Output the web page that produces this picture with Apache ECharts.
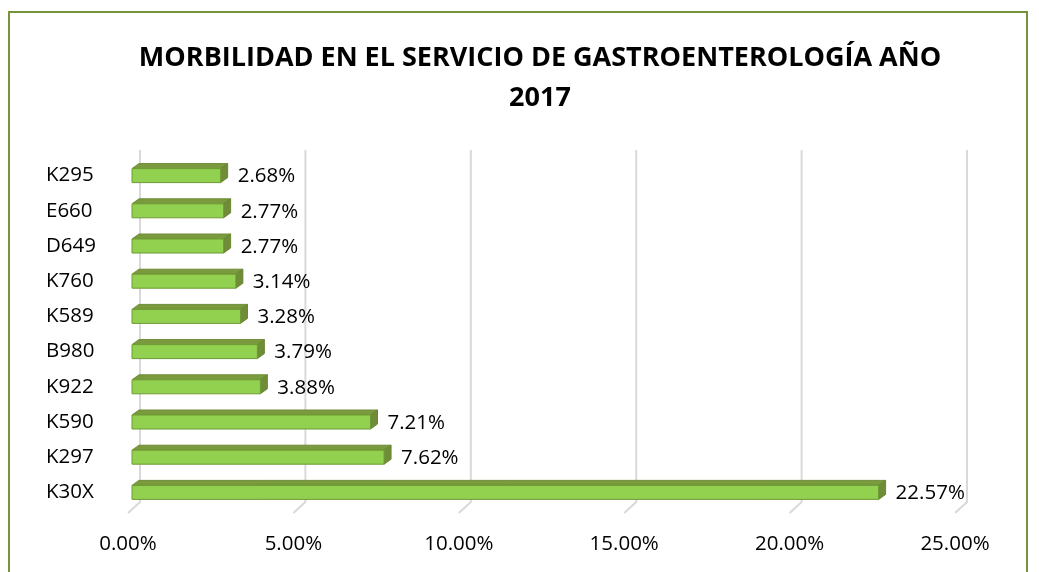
<!DOCTYPE html>
<html>
<head>
    <meta charset="utf-8">
    <title>Morbilidad Gastroenterología 2017</title>
    <style>
        body { margin: 0; padding: 0; background: #ffffff; }
        #chart { width: 1039px; height: 572px; }
    </style>
</head>
<body>
    <div id="chart"></div>
    <script src="https://cdn.jsdelivr.net/npm/echarts@6/dist/echarts.min.js"></script>
    <script>
        // datos (de arriba hacia abajo)
        const categories = ['K295', 'E660', 'D649', 'K760', 'K589', 'B980', 'K922', 'K590', 'K297', 'K30X'];
        const percentages = [2.68, 2.77, 2.77, 3.14, 3.28, 3.79, 3.88, 7.21, 7.62, 22.57];
        const ticks = [0, 5, 10, 15, 20, 25];

        const FONT = '"Open Sans", sans-serif';
        const DX = 7, DY = 5;   // profundidad 3D de las barras
        const BAR_H = 14;

        const chart = echarts.init(document.getElementById('chart'));

        function renderGrid(params, api) {
            const cs = params.coordSys;
            const x = api.coord([api.value(0), 0])[0];
            const top = cs.y - 8;
            const bottom = cs.y + cs.height;
            return {
                type: 'polyline',
                shape: { points: [[x + 8, top], [x + 8, bottom - 8], [x - 4, bottom + 3]] },
                style: { stroke: '#D9D9D9', lineWidth: 2, fill: null },
                silent: true
            };
        }

        function renderBar(params, api) {
            const val = api.value(0);
            const cat = api.value(1);
            const p0 = api.coord([0, cat]);
            const p1 = api.coord([val, cat]);
            const x0 = p0[0], x1 = p1[0];
            const t = p0[1] - BAR_H / 2, b = p0[1] + BAR_H / 2;
            return {
                type: 'group',
                children: [
                    {
                        type: 'polygon',
                        shape: { points: [[x0, t], [x1, t], [x1 + DX, t - DY], [x0 + DX, t - DY]] },
                        style: { fill: '#7A9A3E', stroke: '#6E8C36', lineWidth: 1 }
                    },
                    {
                        type: 'polygon',
                        shape: { points: [[x1, t], [x1 + DX, t - DY], [x1 + DX, b - DY], [x1, b]] },
                        style: { fill: '#6F8C37', stroke: '#6A8734', lineWidth: 1 }
                    },
                    {
                        type: 'rect',
                        shape: { x: x0, y: t, width: x1 - x0, height: BAR_H },
                        style: { fill: '#92D050', stroke: '#6F9A35', lineWidth: 1 }
                    },
                    {
                        type: 'text',
                        x: x1 + DX + 10,
                        y: p0[1] + 1,
                        style: {
                            text: val.toFixed(2) + '%',
                            fill: '#000000',
                            font: '20.5px ' + FONT,
                            verticalAlign: 'middle',
                            align: 'left'
                        }
                    }
                ]
            };
        }

        const option = {
            animation: false,
            backgroundColor: '#ffffff',
            textStyle: { fontFamily: FONT },
            title: {
                text: 'MORBILIDAD EN EL SERVICIO DE GASTROENTEROLOGÍA AÑO\n2017',
                left: 535,
                textAlign: 'center',
                top: 33,
                textStyle: {
                    fontFamily: FONT,
                    fontWeight: 'bold',
                    fontSize: 27,
                    lineHeight: 40,
                    color: '#000000'
                }
            },
            graphic: [{
                type: 'rect',
                shape: { x: 9, y: 12, width: 1018, height: 620 },
                style: { fill: null, stroke: '#77933C', lineWidth: 2 },
                silent: true
            }],
            grid: { left: 132, right: 80, top: 158, bottom: 62 },
            xAxis: {
                type: 'value',
                min: 0,
                max: 25,
                interval: 5,
                axisLine: { show: false },
                axisTick: { show: false },
                splitLine: { show: false },
                axisLabel: {
                    margin: 24,
                    color: '#000000',
                    fontSize: 20.5,
                    fontFamily: FONT,
                    padding: [0, 8, 0, 0],
                    formatter: v => v.toFixed(2) + '%'
                }
            },
            yAxis: {
                type: 'category',
                data: categories,
                inverse: true,
                axisLine: { show: false },
                axisTick: { show: false },
                splitLine: { show: false },
                axisLabel: {
                    align: 'left',
                    margin: 86,
                    color: '#000000',
                    fontSize: 20.5,
                    fontFamily: FONT
                }
            },
            series: [
                {
                    type: 'custom',
                    name: 'grid',
                    renderItem: renderGrid,
                    data: ticks.map(v => [v, 0]),
                    encode: { x: 0, y: 1 },
                    silent: true,
                    z: 1
                },
                {
                    type: 'custom',
                    name: 'Morbilidad',
                    renderItem: renderBar,
                    data: percentages.map((v, i) => [v, i]),
                    encode: { x: 0, y: 1 },
                    z: 2
                }
            ]
        };

        chart.setOption(option);
    </script>
</body>
</html>
